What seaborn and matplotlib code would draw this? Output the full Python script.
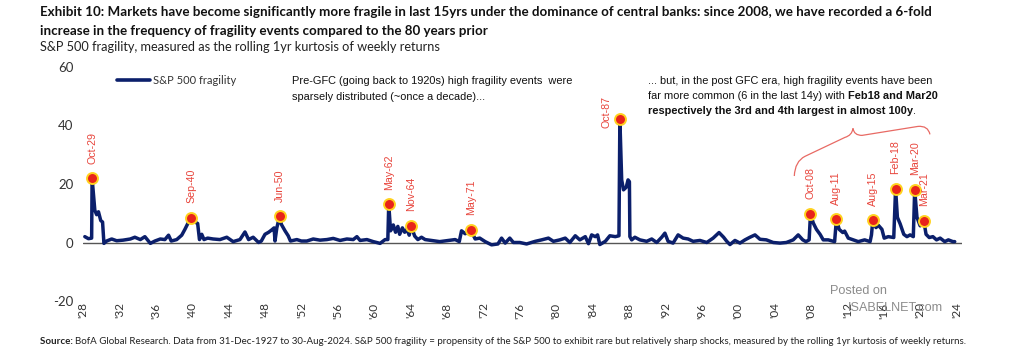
import numpy as np
import pandas as pd
import seaborn as sns
import matplotlib
matplotlib.use("Agg")
import matplotlib.pyplot as plt
from matplotlib import font_manager as fm
from matplotlib.path import Path
from matplotlib.patches import PathPatch

# ---------------- data ----------------
years = [1929.0, 1929.4, 1929.75, 1929.8, 1930.1, 1930.3, 1930.5, 1930.75, 1930.95, 1931.1,
         1931.4, 1931.95, 1932.5, 1933.2, 1934.0, 1934.5, 1935.1, 1935.6, 1936.2, 1936.7,
         1937.3, 1937.8, 1938.2, 1938.5, 1939.1, 1939.65, 1940.0, 1940.4, 1940.7, 1941.1,
         1941.4, 1941.6, 1941.85, 1942.1, 1942.5, 1943.1, 1943.85, 1944.6, 1945.3, 1946.05,
         1946.6, 1947.0, 1947.5, 1948.1, 1948.4, 1948.8, 1949.2, 1949.5, 1949.8, 1949.9,
         1950.1, 1950.4, 1950.6, 1951.0, 1951.35, 1951.6, 1952.3, 1952.8, 1953.4, 1954.1,
         1954.85, 1955.6, 1956.3, 1957.05, 1957.8, 1958.5, 1958.9, 1959.25, 1960.0, 1960.7,
         1961.45, 1962.0, 1962.3, 1962.4, 1962.6, 1962.9, 1963.15, 1963.4, 1963.6, 1963.9,
         1964.15, 1964.4, 1964.65, 1964.85, 1965.25, 1965.6, 1966.0, 1966.4, 1967.1, 1968.0,
         1969.0, 1969.7, 1970.15, 1970.4, 1970.8, 1971.15, 1971.4, 1971.9, 1972.4, 1973.0,
         1973.7, 1974.4, 1974.8, 1975.2, 1975.7, 1976.1, 1976.8, 1977.55, 1978.5, 1979.2,
         1979.95, 1980.5, 1981.2, 1981.8, 1982.3, 1982.9, 1983.4, 1984.0, 1984.35, 1984.7,
         1985.1, 1985.35, 1985.6, 1986.2, 1986.7, 1987.3, 1987.7, 1987.8, 1988.0, 1988.2,
         1988.5, 1988.7, 1988.85, 1988.9, 1989.1, 1989.45, 1990.0, 1990.75, 1991.3, 1991.85,
         1992.4, 1992.75, 1993.1, 1993.65, 1994.2, 1994.75, 1995.3, 1995.85, 1996.6, 1997.35,
         1998.05, 1998.7, 1999.2, 1999.55, 1999.9, 2000.45, 2001.0, 2001.55, 2002.1, 2002.65,
         2003.2, 2003.9, 2004.65, 2005.4, 2006.1, 2006.85, 2007.4, 2007.9, 2008.25, 2008.6,
         2008.75, 2009.05, 2009.4, 2009.8, 2010.15, 2010.7, 2011.4, 2011.6, 2011.9, 2012.3,
         2012.5, 2012.9, 2013.45, 2014.0, 2014.7, 2015.3, 2015.45, 2015.6, 2015.95, 2016.2,
         2016.6, 2016.85, 2017.3, 2017.9, 2018.1, 2018.3, 2018.6, 2019.0, 2019.35, 2019.7,
         2020.05, 2020.2, 2020.45, 2020.8, 2021.2, 2021.45, 2021.8, 2022.2, 2022.6, 2023.0,
         2023.5, 2023.9, 2024.4, 2024.6]
fragility = [2.0, 1.3, 1.5, 22.0, 11.0, 9.5, 10.5, 7.5, 7.0, -0.3,
             0.5, 1.2, 0.6, 0.8, 1.2, 1.8, 1.0, 2.0, -0.3, 0.5,
             1.2, 1.0, 2.5, 0.5, 1.0, 2.5, 4.5, 7.0, 8.5, 7.0,
             6.5, 1.0, 2.8, 1.0, 1.5, 1.2, 1.0, 1.8, 0.3, 1.0,
             3.6, 1.0, 1.8, 0.0, 0.5, 2.8, 3.5, 4.2, 5.0, 0.5,
             5.0, 8.9, 6.2, 4.0, 2.3, 0.5, 1.0, 0.5, 0.5, 1.2,
             0.8, 1.0, 1.4, 0.7, 1.2, 1.0, 2.0, 0.7, 1.0, 0.3,
             -0.3, 1.0, 1.0, 13.1, 4.0, 6.0, 3.5, 5.5, 2.8, 5.0,
             3.5, 4.5, 2.5, 5.7, 2.2, 1.0, 1.8, 1.0, 0.7, 0.3,
             0.7, 1.0, 0.3, 4.0, 3.0, 3.5, 4.3, 1.2, 1.5, 0.3,
             -0.8, -0.5, 1.5, -0.2, 1.5, 0.0, 0.0, -0.5, 0.4, 0.9,
             1.5, 0.4, 0.9, 1.5, 0.0, 2.3, 0.9, 2.0, -0.4, 2.6,
             2.0, 2.6, -0.7, 0.4, 2.3, 2.0, 2.3, 42.3, 21.4, 18.0,
             18.9, 21.4, 20.8, 2.0, 0.9, 1.8, 0.9, 0.4, 1.2, 0.0,
             1.8, 3.2, 0.4, -0.2, 2.6, 1.5, 1.2, 0.4, 0.7, 0.0,
             1.5, 3.4, 1.8, 0.4, -0.7, 0.7, -0.2, 0.9, 1.8, 2.6,
             1.1, 0.9, 0.0, -0.2, 0.0, 0.9, 2.6, 0.9, 0.3, 0.9,
             9.9, 6.7, 4.5, 2.8, 0.9, 0.9, 0.3, 8.0, 4.5, 3.4,
             3.9, 1.5, 0.9, 0.3, 0.9, 0.3, 2.6, 7.6, 5.1, 5.9,
             4.5, 1.5, 2.0, 1.7, 18.4, 8.6, 6.4, 2.8, 2.0, 2.6,
             2.0, 18.0, 8.6, 5.7, 7.4, 2.8, 1.7, 2.0, 0.9, 1.5,
             0.3, 0.9, 0.3, 0.3]

event_labels = ["Oct-29", "Sep-40", "Jun-50", "May-62", "Nov-64", "May-71", "Oct-87",
                "Oct-08", "Aug-11", "Aug-15", "Feb-18", "Mar-20", "Mar-21"]
event_years = [1929.8, 1940.7, 1950.4, 1962.4, 1964.85, 1971.4, 1987.8,
               2008.75, 2011.6, 2015.6, 2018.1, 2020.2, 2021.2]
event_values = [22.0, 8.5, 8.9, 13.1, 5.7, 4.3, 42.3, 9.9, 8.0, 7.6, 18.4, 18.0, 7.4]

tick_years = list(range(1928, 2025, 4))
tick_labels = ["'" + str(y)[2:] for y in tick_years]
y_ticks = [-20, 0, 20, 40, 60]

title_line1 = ("Exhibit 10: Markets have become significantly more fragile in last 15yrs under "
               "the dominance of central banks: since 2008, we have recorded a 6-fold")
title_line2 = "increase in the frequency of fragility events compared to the 80 years prior"
subtitle = "S&P 500 fragility, measured as the rolling 1yr kurtosis of weekly returns"
source_bold = "Source: "
source_rest = ("BofA Global Research. Data from 31-Dec-1927 to 30-Aug-2024. S&P 500 fragility = "
               "propensity of the S&P 500 to exhibit rare but relatively sharp shocks, measured by "
               "the rolling 1yr kurtosis of weekly returns.")
ann1 = ["Pre-GFC (going back to 1920s) high fragility events  were",
        "sparsely distributed (~once a decade)..."]
ann2 = [[("... but, in the post GFC era, high fragility events have been", "normal")],
        [("far more common (6 in the last 14y) with ", "normal"), ("Feb18 and Mar20", "bold")],
        [("respectively the 3rd and 4th largest in almost 100y", "bold"), (".", "normal")]]
series_name = "S&P 500 fragility"

# ---------------- style ----------------
sns.set_theme(style="white")
avail = {f.name for f in fm.fontManager.ttflist}
def pick(*names):
    for n in names:
        if n in avail:
            return n
    return "DejaVu Sans"
NARROW = pick("Liberation Sans Narrow", "Liberation Sans", "Arial")
ARIAL = pick("Liberation Sans", "Arial")
HUM = pick("Lato", "Open Sans", "Noto Sans")
plt.rcParams["font.family"] = [HUM, "DejaVu Sans"]

NAVY = "#0b1f6b"
RED = "#e8231b"
LABEL_RED = "#e8453c"
W, H = 1024, 350
LEFT = 40

fig = plt.figure(figsize=(W / 100, H / 100), dpi=100)
ax = fig.add_axes([83 / W, 1 - 301 / H, 879 / W, (301 - 67) / H])
renderer = fig.canvas.get_renderer()

def text_w(s, size, family, weight="normal"):
    t = fig.text(0, 0, "|" + s + "|", fontsize=size, family=family, fontweight=weight)
    w1 = t.get_window_extent(renderer).width
    t.set_text("||")
    w2 = t.get_window_extent(renderer).width
    t.remove()
    return w1 - w2

def fit_size(parts, target, family, base=10):
    w = sum(text_w(s, base, family, wt) for s, wt in parts)
    return base * target / w

def draw_runs(x, y, parts, size, family, color):
    cx = x
    for s, wt in parts:
        fig.text(cx / W, 1 - y / H, s, fontsize=size, family=family, fontweight=wt,
                 color=color, ha="left", va="baseline")
        cx += text_w(s, size, family, wt)

# ---------------- chart ----------------
df = pd.DataFrame({"year": years, "fragility": fragility})
ax.axhline(0, color="#555555", lw=1.0, zorder=1)
sns.lineplot(data=df, x="year", y="fragility", ax=ax, color=NAVY, lw=2.5,
             estimator=None, label=series_name, zorder=3)
ev = pd.DataFrame({"year": event_years, "value": event_values})
sns.scatterplot(data=ev, x="year", y="value", ax=ax, s=62, color=RED,
                edgecolor="#ffd21f", linewidth=1.4, zorder=5, legend=False)

ax.set_xlim(1928.8, 2025.4)
ax.set_ylim(-20, 60)
ax.set_xticks([y + 0.8 for y in tick_years])
ax.set_xticklabels(tick_labels, rotation=90, fontsize=8.5, color="#333333")
ax.set_yticks(y_ticks)
ax.set_yticklabels([str(v) for v in y_ticks], fontsize=9.5, color="#333333")
ax.tick_params(axis="x", length=0, pad=1)
ax.tick_params(axis="y", length=0, pad=7)
ax.set_xlabel("")
ax.set_ylabel("")
for sp in ax.spines.values():
    sp.set_visible(False)
ax.grid(False)

# event labels
lab_size = fit_size([("Oct-29", "normal")], 32, NARROW)
for lab, x, v in zip(event_labels, event_years, event_values):
    if lab == "Oct-87":
        off = (-9.4, -6.5)
    else:
        off = (0, 10.5)
    ax.annotate(lab, (x, v), xytext=off, textcoords="offset points", rotation=90,
                ha="center", va="bottom", color=LABEL_RED, fontsize=lab_size,
                family=NARROW, zorder=6)

# brace
bx = [2006.97, 2007.04, 2008.14, 2012.54, 2013.31, 2013.42, 2013.53, 2014.41, 2020.56, 2021.66, 2021.88]
bv = [22.73, 27.75, 29.45, 35.94, 36.62, 39.0, 36.62, 36.62, 39.69, 40.03, 36.96]
codes = [Path.MOVETO, Path.CURVE3, Path.CURVE3, Path.LINETO, Path.CURVE3, Path.CURVE3,
         Path.CURVE3, Path.CURVE3, Path.LINETO, Path.CURVE3, Path.CURVE3]
ax.add_patch(PathPatch(Path(list(zip(bx, bv)), codes), fill=False, edgecolor="#e86a64",
                       lw=0.9, transform=ax.transData, zorder=4))

# legend
leg_size = fit_size([(series_name, "normal")], 82, HUM)
leg_px = leg_size * 100 / 72
ax.legend(loc="center left", bbox_to_anchor=(117 / W, 1 - 80 / H), bbox_transform=fig.transFigure,
          frameon=False, fontsize=leg_size, handlelength=33 / leg_px, handletextpad=3 / leg_px,
          borderpad=0, borderaxespad=0, labelcolor="#333333")
for line in ax.get_legend().get_lines():
    line.set_linewidth(2.6)

# ---------------- texts ----------------
t_size = fit_size([(title_line1, "bold")], 933 - LEFT, HUM)
draw_runs(LEFT, 15.5, [(title_line1, "bold")], t_size, HUM, "#111111")
draw_runs(LEFT, 35, [(title_line2, "bold")], t_size, HUM, "#111111")
s_size = fit_size([(subtitle, "normal")], 443 - LEFT, HUM)
draw_runs(LEFT, 51, [(subtitle, "normal")], s_size, HUM, "#222222")

src_parts = [(source_bold, "bold"), (source_rest, "normal")]
src_size = fit_size(src_parts, 966 - LEFT, HUM)
draw_runs(LEFT, 344, src_parts, src_size, HUM, "#222222")

a1_size = fit_size([(ann1[0], "normal")], 280, NARROW)
for i, line in enumerate(ann1):
    draw_runs(292, 84 + i * 15.5, [(line, "normal")], a1_size, NARROW, "#111111")
a2_size = fit_size(ann2[0], 284, NARROW)
for i, parts in enumerate(ann2):
    draw_runs(648, 84 + i * 15.2, parts, a2_size, NARROW, "#111111")

# watermark
wm1 = fit_size([("Posted on", "normal")], 57, ARIAL)
draw_runs(830, 294, [("Posted on", "normal")], wm1, ARIAL, "#8c8c8c")
wm2 = fit_size([("ISABELNET.com", "normal")], 95, ARIAL)
draw_runs(848, 311, [("ISABELNET.com", "normal")], wm2, ARIAL, "#8c8c8c")

fig.savefig("out.png", dpi=100)
